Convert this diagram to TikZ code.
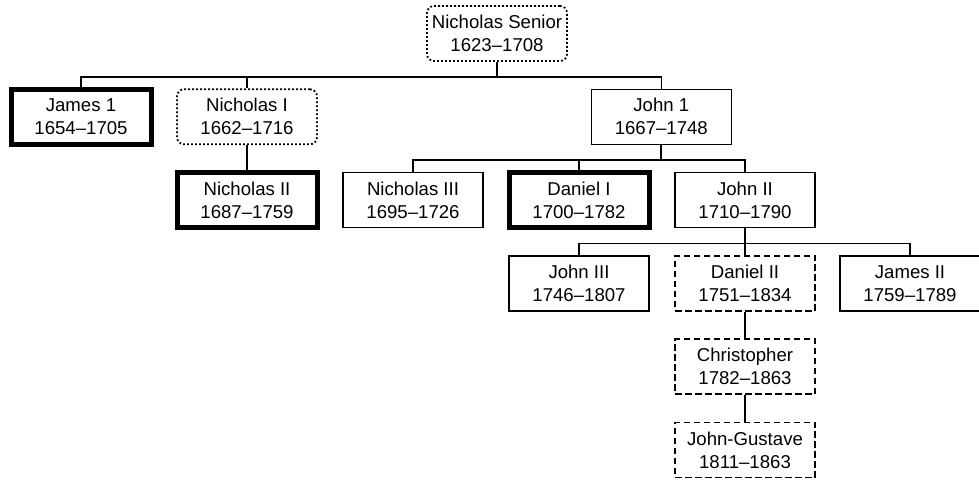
\documentclass[tikz,border=0pt]{standalone}
\usepackage{fontspec}
\setmainfont{Liberation Sans}
\begin{document}
\begin{tikzpicture}[x=1pt,y=-1pt,
  person/.style={draw, line width=1.3pt, minimum width=140pt, minimum height=55pt,
    inner sep=0pt, align=center, font=\fontsize{18.6}{23}\selectfont},
  thickbox/.style={person, line width=5pt},
  dotbox/.style={person, line width=1.8pt, dash pattern=on 1.8pt off 2.2pt, rounded corners=7pt},
  dashbox/.style={person, line width=1.5pt, dash pattern=on 6.5pt off 3.5pt},
  link/.style={line width=1.3pt},
  stub/.style={line width=1.9pt}]
\useasboundingbox (0,0) rectangle (979,479);

\node[dotbox]   (ns)     at (497,33.5)   {Nicholas Senior\\1623–1708};
\node[thickbox] (james)  at (81,116.8)   {James 1\\1654–1705};
\node[dotbox]   (nick1)  at (247,116.8)  {Nicholas I\\1662–1716};
\node[person]   (john1)  at (661.3,116.8){John 1\\1667–1748};
\node[thickbox] (nick2)  at (247,200.1)  {Nicholas II\\1687–1759};
\node[person]   (nick3)  at (413,200.1)  {Nicholas III\\1695–1726};
\node[thickbox] (dan1)   at (579,200.1)  {Daniel I\\1700–1782};
\node[person]   (john2)  at (745,200.1)  {John II\\1710–1790};
\node[person]   (john3)  at (579,283.4)  {John III\\1746–1807};
\node[dashbox]  (dan2)   at (745,283.4)  {Daniel II\\1751–1834};
\node[person]   (james2) at (910,283.4)  {James II\\1759–1789};
\node[dashbox]  (chris)  at (745,366.7)  {Christopher\\1782–1863};
\node[dashbox]  (jg)     at (745,450)    {John-Gustave\\1811–1863};

\draw[stub] (ns.south) -- ++(0,15) coordinate (b0);
\draw[link] (b0) -| (james.north);
\draw[link] (b0) -| (nick1.north);
\draw[link] (b0) -| (john1.north);
\draw[link] (nick1.south) -- (nick2.north);

\draw[stub] (john1.south) -- ++(0,15) coordinate (b1);
\draw[link] (b1) -| (nick3.north);
\draw[link] (b1) -| (dan1.north);
\draw[link] (b1) -| (john2.north);

\draw[stub] (john2.south) -- ++(0,15) coordinate (b2);
\draw[link] (b2) -| (john3.north);
\draw[link] (b2) -- (dan2.north);
\draw[link] (b2) -| (james2.north);

\draw[link] (dan2.south) -- (chris.north);
\draw[link] (chris.south) -- (jg.north);
\end{tikzpicture}
\end{document}
